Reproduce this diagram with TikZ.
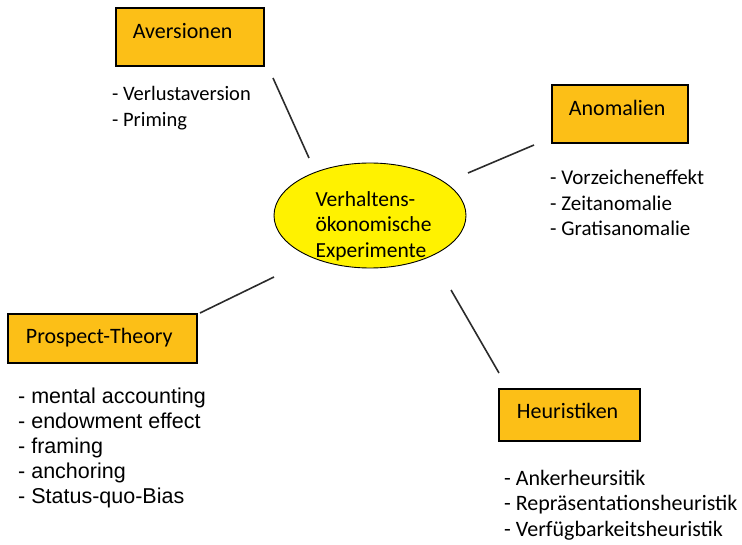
\documentclass[tikz,border=0pt]{standalone}
\usepackage{fontspec}
\setmainfont{Carlito}
\newfontfamily\arialf{Liberation Sans}
\usetikzlibrary{shapes.geometric}
\definecolor{boxfill}{HTML}{FCBF17}
\definecolor{ellfill}{HTML}{FFF200}
\definecolor{linecol}{HTML}{2B2B2B}
\tikzset{
  topic/.style={draw=black, line width=1.8pt, fill=boxfill, rectangle, inner ysep=0pt,
    anchor=north west, align=left, font=\fontsize{22}{25}\selectfont},
  listtext/.style={anchor=base west, align=left, inner sep=0pt, font=\fontsize{21}{25}\selectfont},
  connector/.style={draw=linecol, line width=1.6pt},
}
\begin{document}
\begin{tikzpicture}[x=1pt,y=-1pt]
\useasboundingbox (0,0) rectangle (742,545);

% central ellipse
\node[ellipse, draw=black, line width=0.9pt, fill=ellfill, minimum width=192pt, minimum height=105pt, inner sep=0pt,
  font=\fontsize{21.5}{25.5}\selectfont] (ell) at (370,215.5)
  {\hspace*{7pt}\raisebox{9pt}[0pt][0pt]{\begin{tabular}[t]{@{}l@{}}Verhaltens-\\ökonomische\\Experimente\end{tabular}}};

% topic boxes
\node[topic, inner xsep=17pt, text width=114pt, minimum height=58pt, text height=13pt, text depth=9pt] (av) at (115,7) {Aversionen};
\node[topic, inner xsep=17pt, text width=102pt, minimum height=58pt, text height=12pt, text depth=8pt] (an) at (551,84) {Anomalien};
\node[topic, inner xsep=18pt, text width=153pt, minimum height=49pt, text height=14pt, text depth=4pt] (pt) at (7,313) {Prospect-Theory};
\node[topic, inner xsep=18pt, text width=105pt, minimum height=52pt, text height=13pt, text depth=6pt] (he) at (498,388) {Heuristiken};

% lists (anchor = baseline of last line)
\node[listtext, font=\fontsize{20.5}{26.5}\selectfont] (avl) at (112,127) {- Verlustaversion\\- Priming};
\node[listtext, font=\fontsize{21}{25.7}\selectfont] (anl) at (550,236) {- Vorzeicheneffekt\\- Zeitanomalie\\- Gratisanomalie};
\node[listtext, font=\arialf\fontsize{21.5}{24.8}\selectfont] (ptl) at (18,503) {- mental accounting\\- endowment effect\\- framing\\- anchoring\\- Status-quo-Bias};
\node[listtext, font=\fontsize{22}{25.5}\selectfont] (hel) at (504,536) {- Ankerheursitik\\- Repräsentationsheuristik\\- Verfügbarkeitsheuristik};

% connector end points
\coordinate (a1) at (273,78);  \coordinate (a2) at (309,158);
\coordinate (b1) at (468,173); \coordinate (b2) at (534,145);
\coordinate (c1) at (200,313); \coordinate (c2) at (274,277);
\coordinate (d1) at (451,290); \coordinate (d2) at (499,373);

\draw[connector] (a1) -- (a2);
\draw[connector] (b1) -- (b2);
\draw[connector] (c1) -- (c2);
\draw[connector] (d1) -- (d2);
\end{tikzpicture}
\end{document}
